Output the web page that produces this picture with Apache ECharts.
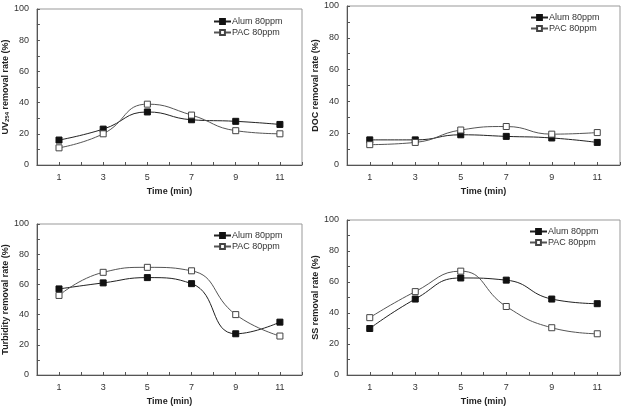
<!DOCTYPE html>
<html>
<head>
<meta charset="utf-8">
<script src="https://cdn.jsdelivr.net/npm/echarts@6/dist/echarts.min.js"></script>
<style>html,body{margin:0;padding:0;background:#fff;}#c{width:624px;height:407px;}</style>
</head>
<body>
<div id="c"></div>
<script>
var times = [1, 3, 5, 7, 9, 11];
var seriesNames = ['Alum 80ppm', 'PAC 80ppm'];
var uvAlum = [16, 23, 34, 29, 28, 26];
var uvPac = [11, 20, 39, 32, 22, 20];
var docAlum = [15.8, 15.8, 19, 18, 17, 14.2];
var docPac = [12.8, 14.2, 22, 24.2, 19.4, 20.4];
var turbAlum = [57, 61, 64.5, 60.5, 27.3, 35];
var turbPac = [52.7, 68, 71.3, 69, 40, 25.8];
var ssAlum = [30, 49, 62.6, 61.2, 49, 46];
var ssPac = [37, 53.8, 67, 44.2, 30.5, 26.6];
var yTitles = ['{a|UV}{s|254}{a| removal rate (%)}', 'DOC removal rate (%)', 'Turbidity removal rate (%)', 'SS removal rate (%)'];
var xTitle = 'Time (min)';

var grids = [
  {left: 33, top: 9, width: 269, height: 156},
  {left: 347, top: 6, width: 273, height: 159},
  {left: 33, top: 224, width: 269, height: 155},
  {left: 347, top: 220, width: 273, height: 158}
];
var legendPos = [
  {left: 213, top: 17},
  {left: 530, top: 13},
  {left: 213, top: 231},
  {left: 529, top: 227}
];
var panels = [[uvAlum, uvPac], [docAlum, docPac], [turbAlum, turbPac], [ssAlum, ssPac]];

var font = 'Liberation Sans, Arial, sans-serif';
var option = {
  animation: false,
  backgroundColor: '#fff',
  grid: grids.map(function (g) {
    return Object.assign({show: true, borderColor: '#999', borderWidth: 1, backgroundColor: 'transparent'}, g);
  }),
  xAxis: grids.map(function (g, i) {
    return {
      type: 'value', gridIndex: i, min: 0, max: 12, interval: 1,
      name: xTitle, nameLocation: 'middle', nameGap: 22,
      nameTextStyle: {fontFamily: font, fontSize: 9, fontWeight: 'bold', color: '#222'},
      axisLine: {lineStyle: {color: '#555', width: 1}},
      axisTick: {inside: true, length: 3, lineStyle: {color: '#555'}},
      splitLine: {show: false},
      axisLabel: {fontFamily: font, fontSize: 9, color: '#333', margin: 8,
        formatter: function (v) { return (v % 2 === 1) ? String(v) : ''; }}
    };
  }),
  yAxis: grids.map(function (g, i) {
    return {
      type: 'value', gridIndex: i, min: 0, max: 100, interval: 10,
      name: yTitles[i], nameLocation: 'middle', nameGap: 19, nameRotate: 90,
      nameTextStyle: {fontFamily: font, fontSize: 9, fontWeight: 'bold', color: '#222',
        rich: {
          a: {fontFamily: font, fontSize: 9, fontWeight: 'bold', color: '#222'},
          s: {fontFamily: font, fontSize: 6, fontWeight: 'bold', color: '#222', verticalAlign: 'bottom', padding: [3, 0, 0, 0]}
        }},
      axisLine: {show: true, lineStyle: {color: '#555', width: 1}},
      axisTick: {show: true, inside: true, length: 3, lineStyle: {color: '#555'}},
      splitLine: {show: false},
      axisLabel: {fontFamily: font, fontSize: 9, color: '#333', margin: 8,
        formatter: function (v) { return (v % 20 === 0) ? String(v) : ''; }}
    };
  }),
  legend: legendPos.map(function (p, i) {
    return {
      orient: 'vertical', left: p.left, top: p.top, itemGap: 2, itemWidth: 17, itemHeight: 6,
      padding: 0,
      data: [{name: seriesNames[0] + '\u200b'.repeat(i)}, {name: seriesNames[1] + '\u200b'.repeat(i)}],
      textStyle: {fontFamily: font, fontSize: 9, color: '#333', padding: [0, 0, 0, -4]}
    };
  }),
  series: []
};
panels.forEach(function (pair, i) {
  option.series.push({
    name: seriesNames[0] + '\u200b'.repeat(i), type: 'line', xAxisIndex: i, yAxisIndex: i,
    data: times.map(function (t, k) { return [t, pair[0][k]]; }),
    smooth: 0.5, symbol: 'rect', symbolSize: 6,
    lineStyle: {color: '#222', width: 1},
    itemStyle: {color: '#111', borderColor: '#111', borderWidth: 1}
  });
  option.series.push({
    name: seriesNames[1] + '\u200b'.repeat(i), type: 'line', xAxisIndex: i, yAxisIndex: i,
    data: times.map(function (t, k) { return [t, pair[1][k]]; }),
    smooth: 0.5, symbol: 'rect', symbolSize: 6,
    lineStyle: {color: '#555', width: 1},
    itemStyle: {color: '#fff', borderColor: '#444', borderWidth: 1}
  });
});
var chart = echarts.init(document.getElementById('c'), null, {renderer: 'canvas'});
chart.setOption(option);
</script>
</body>
</html>
